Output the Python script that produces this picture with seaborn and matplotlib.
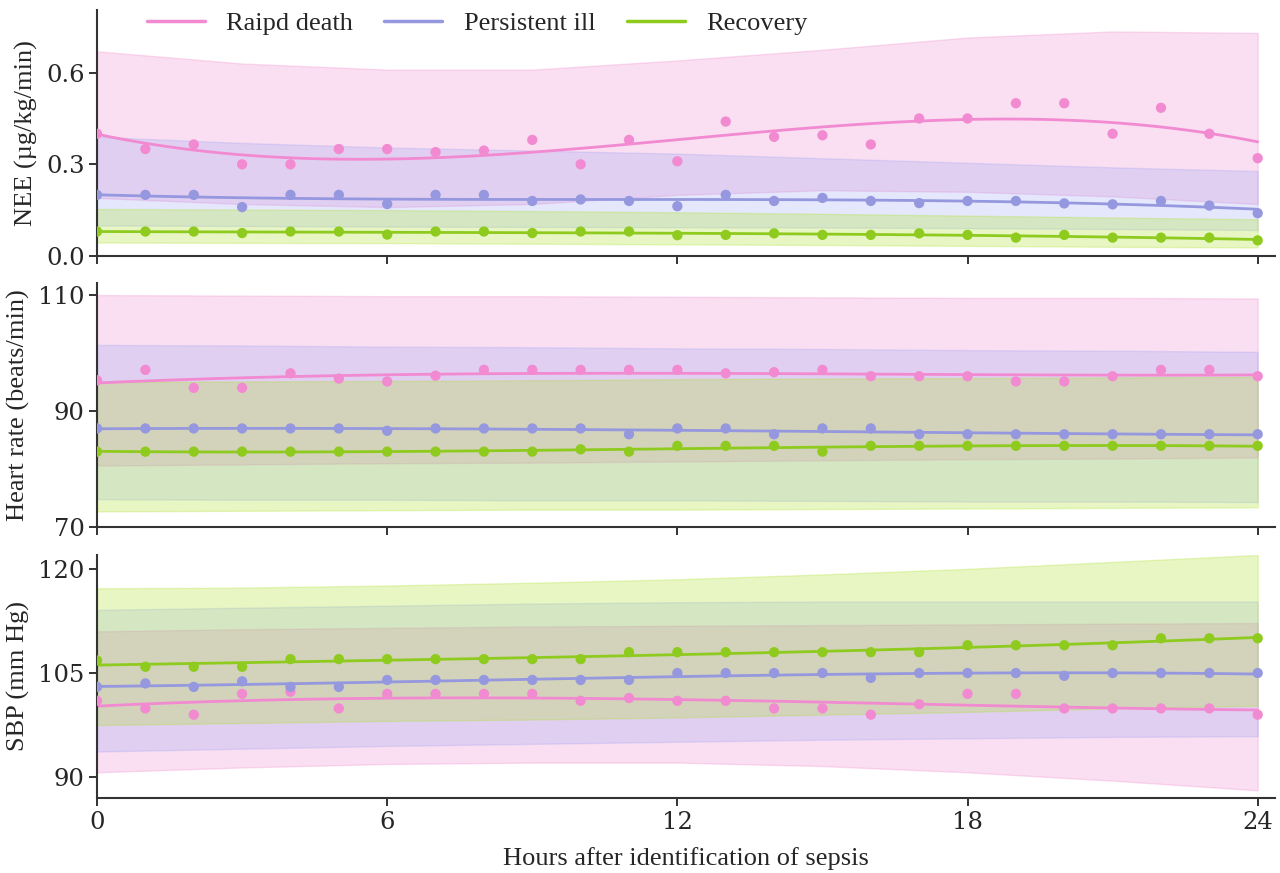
import matplotlib
matplotlib.use("Agg")
import matplotlib.pyplot as plt
from matplotlib.lines import Line2D
import seaborn as sns
import pandas as pd

# ---------------- data ----------------
hours = list(range(25))
band_hours = [0, 3, 6, 9, 12, 15, 18, 21, 24]
groups = ["Raipd death", "Persistent ill", "Recovery"]
colors = {"Raipd death": "#f28ad1", "Persistent ill": "#9598de", "Recovery": "#8fcb1f"}
band_colors = {"Raipd death": "#f08ad0", "Persistent ill": "#8a9af5", "Recovery": "#aae128"}
band_alpha = {"Raipd death": 0.28, "Persistent ill": 0.22, "Recovery": 0.27}

# NEE (µg/kg/min)
nee_death = [0.40, 0.35, 0.365, 0.30, 0.30, 0.35, 0.35, 0.34, 0.345, 0.38, 0.30, 0.38, 0.31,
             0.44, 0.39, 0.395, 0.365, 0.45, 0.45, 0.50, 0.50, 0.40, 0.485, 0.40, 0.32]
nee_persist = [0.20, 0.20, 0.20, 0.16, 0.20, 0.20, 0.17, 0.20, 0.20, 0.18, 0.185, 0.18, 0.163,
               0.20, 0.18, 0.19, 0.18, 0.173, 0.18, 0.18, 0.172, 0.169, 0.18, 0.165, 0.14]
nee_recovery = [0.08, 0.08, 0.08, 0.075, 0.08, 0.08, 0.07, 0.08, 0.08, 0.075, 0.08, 0.08, 0.068,
                0.069, 0.074, 0.069, 0.069, 0.074, 0.069, 0.06, 0.069, 0.06, 0.06, 0.06, 0.051]
nee_death_hi = [0.67, 0.63, 0.61, 0.61, 0.64, 0.675, 0.715, 0.735, 0.73]
nee_death_lo = [0.19, 0.17, 0.16, 0.17, 0.20, 0.215, 0.21, 0.195, 0.17]
nee_persist_hi = [0.39, 0.37, 0.355, 0.345, 0.335, 0.32, 0.305, 0.29, 0.278]
nee_persist_lo = [0.10, 0.098, 0.096, 0.095, 0.094, 0.093, 0.091, 0.088, 0.085]
nee_recovery_hi = [0.154, 0.152, 0.15, 0.147, 0.143, 0.138, 0.132, 0.126, 0.12]
nee_recovery_lo = [0.044, 0.043, 0.042, 0.04, 0.038, 0.036, 0.033, 0.03, 0.028]

# Heart rate (beats/min)
hr_death = [95.3, 97.1, 94.0, 94.0, 96.5, 95.6, 95.1, 96.1, 97.1, 97.1, 97.1, 97.1, 97.1,
            96.5, 96.7, 97.1, 96.0, 96.0, 96.0, 95.1, 95.1, 96.0, 97.1, 97.1, 96.0]
hr_persist = [87, 87, 87, 87, 87, 87, 86.6, 87, 87, 87, 87, 86, 87,
              87, 86, 87, 87, 86, 86, 86, 86, 86, 86, 86, 86]
hr_recovery = [83, 83, 83, 83, 83, 83, 83, 83, 83, 83, 83.4, 83, 84,
               84, 84, 83, 84, 84, 84, 84, 84, 84, 84, 84, 84]
hr_death_hi = [110.0, 109.9, 109.8, 109.8, 109.7, 109.6, 109.5, 109.5, 109.4]
hr_death_lo = [80.6, 80.8, 81.0, 81.1, 81.3, 81.5, 81.7, 81.8, 82.0]
hr_persist_hi = [101.4, 101.3, 101.1, 101.0, 100.8, 100.7, 100.5, 100.4, 100.2]
hr_persist_lo = [74.8, 74.7, 74.7, 74.6, 74.6, 74.5, 74.4, 74.4, 74.3]
hr_recovery_hi = [95.0, 95.1, 95.2, 95.3, 95.5, 95.6, 95.7, 95.8, 95.9]
hr_recovery_lo = [72.7, 72.8, 72.9, 73.0, 73.0, 73.1, 73.2, 73.3, 73.4]

# SBP (mm Hg)
sbp_death = [101.0, 99.9, 99.0, 102.0, 102.3, 99.9, 102.0, 102.0, 102.0, 102.0, 101.0, 101.4, 101.0,
             101.0, 99.9, 99.9, 99.0, 100.5, 102.0, 102.0, 99.9, 99.9, 99.9, 99.9, 99.0]
sbp_persist = [103.0, 103.5, 103.0, 103.8, 103.0, 103.0, 104.0, 104.0, 104.0, 104.0, 104.0, 104.0, 105.0,
               105.0, 105.0, 105.0, 104.3, 105.0, 105.0, 105.0, 104.6, 105.0, 105.0, 105.0, 105.0]
sbp_recovery = [106.8, 105.9, 105.9, 105.9, 107.0, 107.0, 107.0, 107.0, 107.0, 107.0, 107.0, 108.0, 108.0,
                108.0, 108.0, 108.0, 108.0, 108.0, 109.0, 109.0, 109.0, 109.0, 110.0, 110.0, 110.0]
sbp_death_hi = [111.0, 111.3, 111.5, 111.7, 111.8, 111.9, 112.0, 112.1, 112.2]
sbp_death_lo = [90.7, 91.4, 91.9, 92.1, 92.1, 91.6, 90.7, 89.5, 88.1]
sbp_persist_hi = [114.1, 114.4, 114.7, 115.0, 115.2, 115.3, 115.3, 115.3, 115.3]
sbp_persist_lo = [93.7, 94.1, 94.5, 94.8, 95.1, 95.4, 95.6, 95.8, 95.9]
sbp_recovery_hi = [117.2, 117.3, 117.6, 118.0, 118.5, 119.2, 120.0, 121.0, 122.0]
sbp_recovery_lo = [97.5, 97.8, 98.1, 98.3, 98.6, 99.0, 99.4, 99.9, 100.3]

panels = [
    {"ylabel": "NEE (µg/kg/min)", "ylim": (0, 0.805), "yticks": [0.0, 0.3, 0.6], "fmt": "{:.1f}",
     "series": {"Raipd death": (nee_death, nee_death_lo, nee_death_hi),
                "Persistent ill": (nee_persist, nee_persist_lo, nee_persist_hi),
                "Recovery": (nee_recovery, nee_recovery_lo, nee_recovery_hi)}},
    {"ylabel": "Heart rate (beats/min)", "ylim": (70, 112.1), "yticks": [70, 90, 110], "fmt": "{:d}",
     "series": {"Raipd death": (hr_death, hr_death_lo, hr_death_hi),
                "Persistent ill": (hr_persist, hr_persist_lo, hr_persist_hi),
                "Recovery": (hr_recovery, hr_recovery_lo, hr_recovery_hi)}},
    {"ylabel": "SBP (mm Hg)", "ylim": (87, 122), "yticks": [90, 105, 120], "fmt": "{:d}",
     "series": {"Raipd death": (sbp_death, sbp_death_lo, sbp_death_hi),
                "Persistent ill": (sbp_persist, sbp_persist_lo, sbp_persist_hi),
                "Recovery": (sbp_recovery, sbp_recovery_lo, sbp_recovery_hi)}},
]

# ---------------- plot ----------------
sns.set_theme(style="ticks")
plt.rcParams["font.family"] = ["DejaVu Serif"]
serif = ["Liberation Serif", "DejaVu Serif"]

fig = plt.figure(figsize=(12.8, 8.73), dpi=100)
axes_pos = [(0.0758, 0.7068, 0.92, 0.2817),
            (0.0758, 0.3963, 0.92, 0.2797),
            (0.0758, 0.0859, 0.92, 0.2784)]
axes = [fig.add_axes(p) for p in axes_pos]

for ax, panel in zip(axes, panels):
    for g in groups:
        vals, lo, hi = panel["series"][g]
        ax.fill_between(band_hours, lo, hi, color=band_colors[g], alpha=band_alpha[g],
                        linewidth=1.0, zorder=1)
        df = pd.DataFrame({"hour": hours, "value": vals})
        sns.regplot(data=df, x="hour", y="value", ax=ax, order=3, ci=None, color=colors[g],
                    scatter_kws={"s": 55, "alpha": 1, "edgecolors": "none", "zorder": 3},
                    line_kws={"linewidth": 2.0, "zorder": 2})
    ax.set_xlim(0, 24.35)
    ax.set_ylim(*panel["ylim"])
    ax.set_yticks(panel["yticks"])
    ax.set_yticklabels([panel["fmt"].format(t) for t in panel["yticks"]])
    ax.set_xticks([0, 6, 12, 18, 24])
    ax.set_ylabel(panel["ylabel"], fontsize=19, family=serif, labelpad=6)
    ax.set_xlabel("")
    ax.tick_params(axis="both", labelsize=17.5, length=6, width=1.4, color="#333333", pad=3)
    for s in ["left", "bottom"]:
        ax.spines[s].set_linewidth(1.5)
        ax.spines[s].set_color("#333333")
    sns.despine(ax=ax)

for ax in axes[:2]:
    ax.set_xticklabels([])

axes[2].set_xlabel("Hours after identification of sepsis", fontsize=19, family=serif, labelpad=10)

handles = [Line2D([0], [0], color=colors[g], linewidth=2.5) for g in groups]
axes[0].legend(handles, groups, loc="upper left", bbox_to_anchor=(0.022, 1.09), ncol=3,
               frameon=False, handlelength=2.2, handletextpad=0.8, columnspacing=1.2,
               prop={"family": serif, "size": 19})

fig.savefig("out.png", dpi=100)
